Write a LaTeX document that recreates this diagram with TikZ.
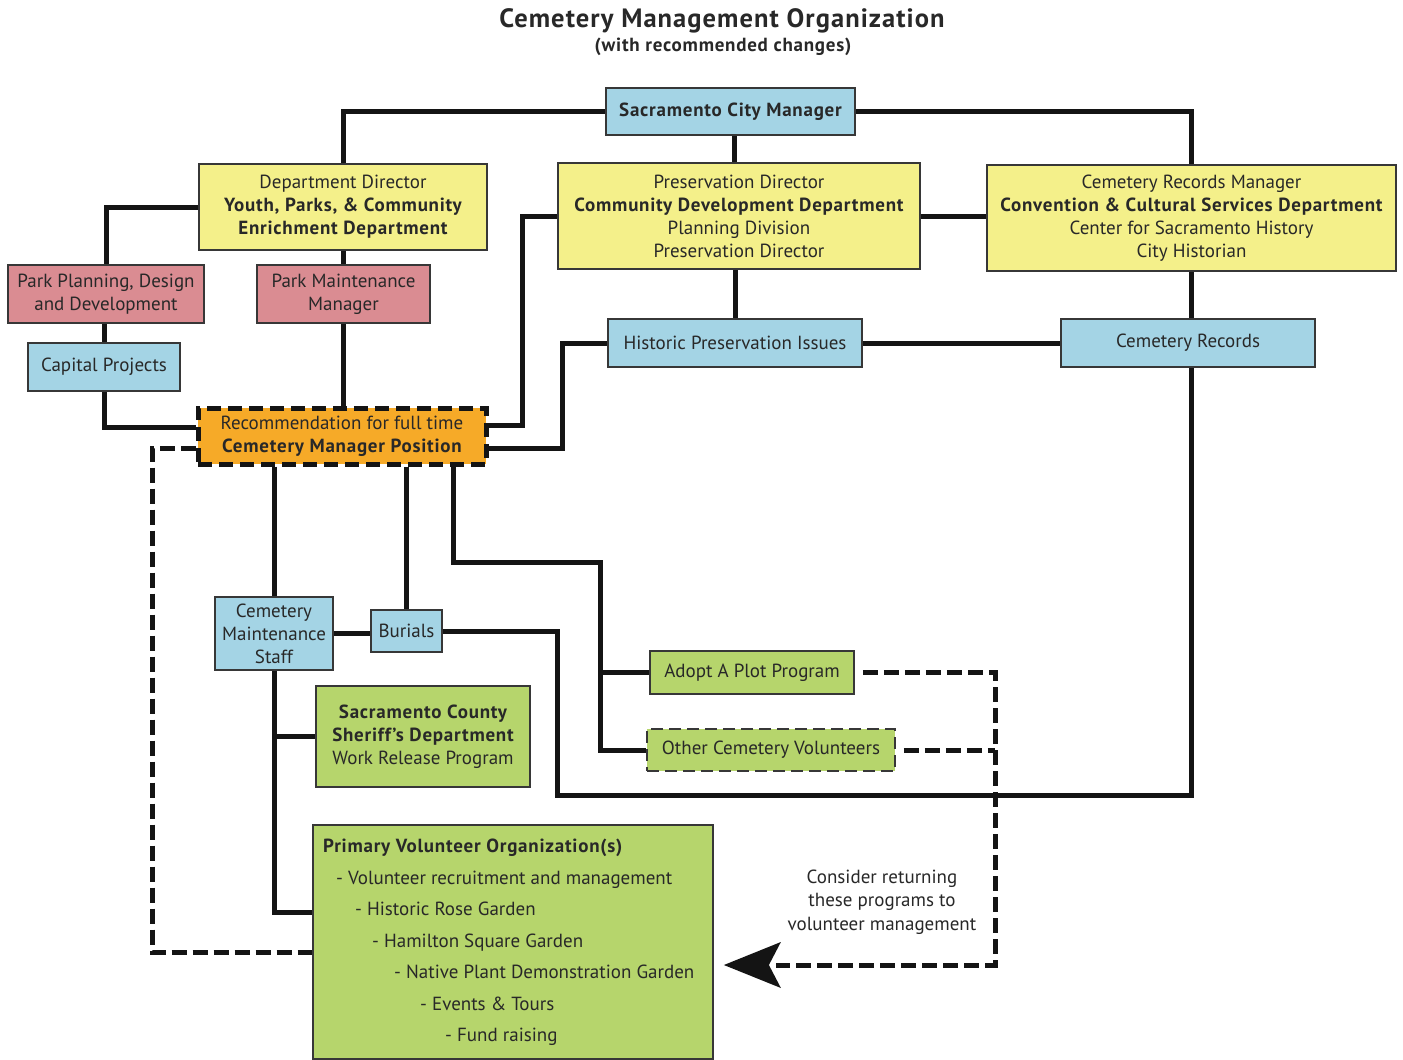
\documentclass[tikz,border=0pt]{standalone}
\usepackage{fontspec}
\setmainfont{PT Sans}[BoldFeatures={LetterSpace=4}]
\usetikzlibrary{arrows.meta,calc}
\definecolor{cblue}{RGB}{164,212,229}
\definecolor{cyellow}{RGB}{244,240,138}
\definecolor{cpink}{RGB}{218,140,146}
\definecolor{corange}{RGB}{246,170,40}
\definecolor{cgreen}{RGB}{182,213,108}
\definecolor{ctext}{RGB}{40,40,40}
\definecolor{cline}{RGB}{20,20,20}
\newcommand\myfs{\fontsize{19}{23}\selectfont}
\pgfdeclarelayer{back}
\pgfsetlayers{back,main}
\tikzset{
  box/.style={draw=cline!85, line width=1.8pt, inner sep=0pt, align=center, text=ctext, font=\myfs},
  bluebox/.style={box, fill=cblue},
  yellowbox/.style={box, fill=cyellow},
  pinkbox/.style={box, fill=cpink},
  greenbox/.style={box, fill=cgreen},
  orangebox/.style={box, fill=corange, draw=cline, line width=5pt, dash pattern=on 14pt off 7pt},
  conn/.style={draw=cline, line width=5pt},
  dconn/.style={draw=cline, line width=5pt, dash pattern=on 15pt off 6pt},
  plain/.style={text=ctext, align=center, inner sep=0pt},
}
\begin{document}
\begin{tikzpicture}[x=1pt,y=-1pt]
\begin{pgfonlayer}{back}
\useasboundingbox[fill=white] (0,0) rectangle (1403,1060);
\end{pgfonlayer}

% titles
\node[plain, font=\fontsize{26.5}{30}\selectfont\bfseries] (title) at (722,21) {Cemetery Management Organization};
\node[plain, font=\fontsize{19}{22}\selectfont\bfseries] (sub) at (723,47) {(with recommended changes)};

% boxes
\node[bluebox, minimum width=249, minimum height=47] (cm) at (730.5,111.5) {\bfseries Sacramento City Manager};
\node[yellowbox, minimum width=288, minimum height=86] (dd) at (343,207) {Department Director\\ \bfseries Youth, Parks, \& Community\\ \bfseries Enrichment Department};
\node[yellowbox, minimum width=362, minimum height=106] (pd) at (739,216) {Preservation Director\\ \bfseries Community Development Department\\ Planning Division\\ Preservation Director};
\node[yellowbox, minimum width=409, minimum height=106] (crm) at (1191.5,218) {Cemetery Records Manager\\ \bfseries Convention \& Cultural Services Department\\ Center for Sacramento History\\ City Historian};
\node[pinkbox, minimum width=196, minimum height=58] (ppd) at (106,294) {Park Planning, Design\\ and Development};
\node[pinkbox, minimum width=173, minimum height=58] (pmm) at (343.5,294) {Park Maintenance\\ Manager};
\node[bluebox, minimum width=152, minimum height=48] (cp) at (104,367) {Capital Projects};
\node[bluebox, minimum width=254, minimum height=48] (hpi) at (735,343) {Historic Preservation Issues};
\node[bluebox, minimum width=254, minimum height=48] (cr) at (1188,343) {Cemetery Records};
\node[orangebox, minimum width=288, minimum height=56] (rec) at (342,436) {Recommendation for full time\\ \bfseries Cemetery Manager Position};
\node[bluebox, minimum width=118, minimum height=73] (cms) at (274,633.5) {Cemetery\\ Maintenance\\ Staff};
\node[bluebox, minimum width=71, minimum height=42] (bur) at (406.5,631) {Burials};
\node[greenbox, minimum width=204, minimum height=43] (aap) at (752,672.5) {Adopt A Plot Program};
\node[greenbox, minimum width=248, minimum height=42, dash pattern=on 12pt off 6pt] (ocv) at (771,750) {Other Cemetery Volunteers};
\node[greenbox, minimum width=214, minimum height=101] (sher) at (423,736.5) {\bfseries Sacramento County\\ \bfseries Sheriff's Department\\ Work Release Program};
\node[greenbox, minimum width=400, minimum height=234] (pvo) at (513,942) {};
\node[plain, anchor=north west, align=left, font=\fontsize{19}{31.5}\selectfont] (pvotext) at (323,839) {\textbf{Primary Volunteer Organization(s)}\\
\hspace*{13pt}- Volunteer recruitment and management\\
\hspace*{32pt}- Historic Rose Garden\\
\hspace*{49pt}- Hamilton Square Garden\\
\hspace*{71pt}- Native Plant Demonstration Garden\\
\hspace*{97pt}- Events \& Tours\\
\hspace*{122pt}- Fund raising};
\node[plain, font=\fontsize{19}{23.5}\selectfont] (note) at (882,902) {Consider returning\\ these programs to\\ volunteer management};

% junction coordinates
\coordinate (j1) at (522,425);
\coordinate (j2) at (562,448);
\coordinate (j3) at (557,795);
\coordinate (j4) at (453,562);
\coordinate (j5) at (600,750);
\coordinate (d1) at (152,952);
\coordinate (d2) at (995,965);

\begin{pgfonlayer}{back}
% solid connectors
\draw[conn] (cm.west) -| (dd.north);
\draw[conn] (cm.east) -| (crm.north);
\draw[conn] ([xshift=4pt]cm.south) -- ([xshift=4pt]cm.south |- pd.north);
\draw[conn] (dd.west) -| (ppd.north);
\draw[conn] (dd.south) -- (dd.south |- pmm.north);
\draw[conn] (cp.north) -- (cp.north |- ppd.south);
\draw[conn] (cp.south) |- ([yshift=9pt]rec.west);
\draw[conn] (pmm.south) -- (pmm.south |- rec.north);
\draw[conn] (pd.west) -| (j1) -- (j1 -| rec.east);
\draw[conn] (hpi.west) -| (j2) -- (j2 -| rec.east);
\draw[conn] (hpi.north) -- (hpi.north |- pd.south);
\draw[conn] (pd.east) -- (pd.east -| crm.west);
\draw[conn] (hpi.east) -- (hpi.east -| cr.west);
\draw[conn] (cr.north -| crm.south) -- (crm.south);
\draw[conn] (cr.south -| crm.south) |- (j3) |- (bur.east);
\draw[conn] (rec.south -| cms.north) -- (cms.north);
\draw[conn] (rec.south -| bur.north) -- (bur.north);
\draw[conn] (rec.south -| j4) -- (j4) -| (j5) -- (ocv.west);
\draw[conn] (j5 |- aap.west) -- (aap.west);
\draw[conn] (cms.east) -- (cms.east -| bur.west);
\draw[conn] (cms.south) |- ([yshift=30pt]pvo.west);
\draw[conn] (cms.south |- sher.west) -- (sher.west);
% dashed connectors
\draw[dconn] ([yshift=-12pt]rec.west) -| (d1) -- (d1 -| pvo.west);
\draw[dconn] ([xshift=8pt]aap.east) -| (d2) -- ([xshift=62pt]d2 -| pvo.east);
\draw[dconn] ([xshift=8pt]ocv.east) -- (ocv.east -| d2);
\end{pgfonlayer}
\path[fill=cline] ([xshift=10pt]d2 -| pvo.east) -- ++(57,-23) -- ++(-12,23) -- ++(12,23) -- cycle;
\end{tikzpicture}
\end{document}
